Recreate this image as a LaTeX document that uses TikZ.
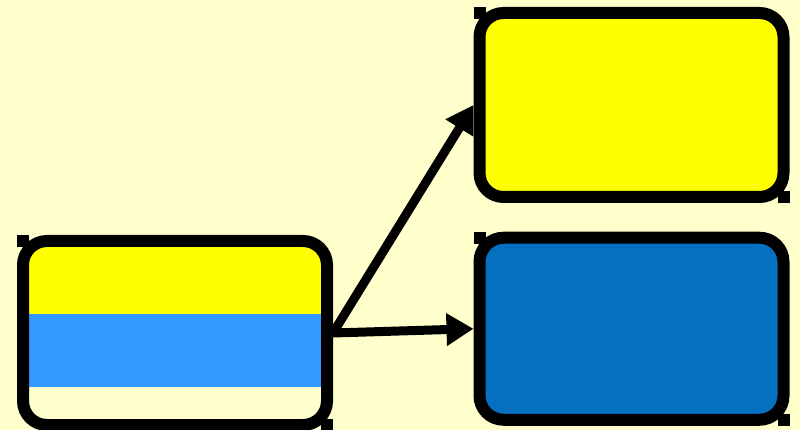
\documentclass[tikz,border=0pt]{standalone}
\usepackage{tikz}
\usetikzlibrary{arrows.meta}

\definecolor{paleyellow}{HTML}{FFFFCC}
\definecolor{brightyellow}{HTML}{FFFF00}
\definecolor{lightblue}{HTML}{3399FF}
\definecolor{darkblue}{HTML}{0570C0}

\begin{document}
\begin{tikzpicture}[x=1pt, y=1pt,
    box/.style={draw=black, line width=12pt, rounded corners=24pt, minimum width=304pt, minimum height=184pt, inner sep=0pt},
    link/.style={draw=black, line width=9pt, -{Triangle[length=27pt, width=31pt]}},
    marker/.style={fill=black}]

    \fill [paleyellow] (0,0) rectangle (800,-430);
    \useasboundingbox (0,0) rectangle (800,-430);

    \node [box, path picture={
        \fill [brightyellow, sharp corners] (path picture bounding box.north west) rectangle ([yshift=19pt]path picture bounding box.east);
        \fill [lightblue, sharp corners] ([yshift=19pt]path picture bounding box.west) rectangle ([yshift=-54pt]path picture bounding box.east);
    }] (split) at (175,-333) {};
    \node [box, fill=brightyellow] (upper) at (631.5,-105) {};
    \node [box, fill=darkblue, minimum height=182pt] (lower) at (631.5,-328.75) {};

    \draw [link] (split.east) -- (upper.west);
    \draw [link] (split.east) -- (lower.west);

    % corner marks
    \foreach \n in {split, upper, lower} {
        \fill [marker] (\n.north west) rectangle ++(12,-12);
        \fill [marker] (\n.south east) rectangle ++(-12,12);
    }

\end{tikzpicture}
\end{document}
